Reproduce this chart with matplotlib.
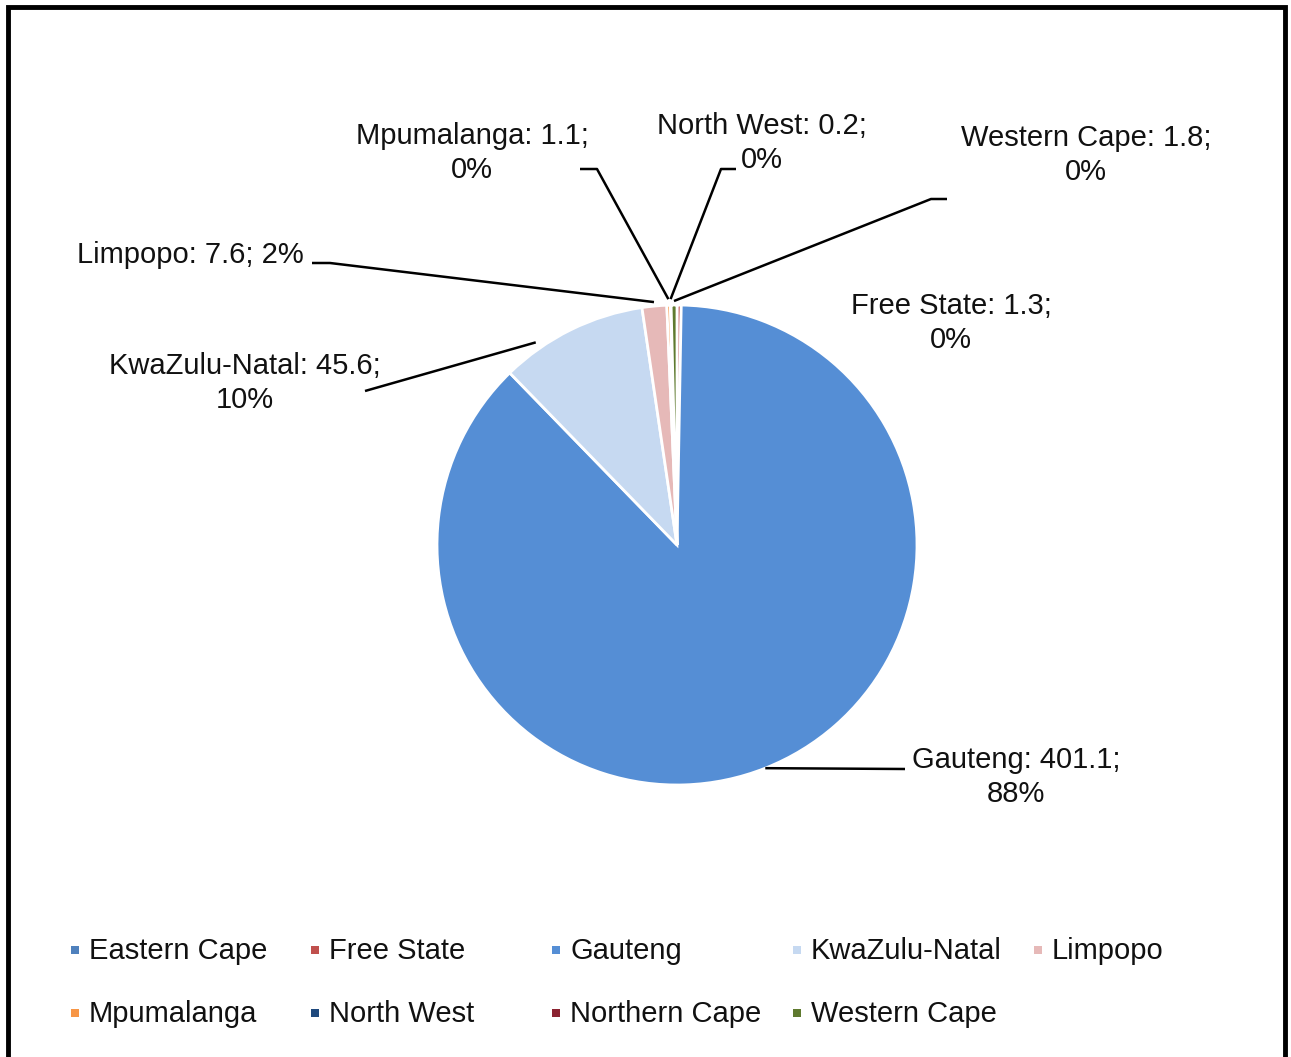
import matplotlib.pyplot as plt
import numpy as np
from matplotlib.patches import Rectangle

plt.rcParams['font.family'] = ['Liberation Sans', 'DejaVu Sans']

# Provinces, values and the percentage shown in each data label
provinces = ['Eastern Cape', 'Free State', 'Gauteng', 'KwaZulu-Natal', 'Limpopo',
             'Mpumalanga', 'North West', 'Northern Cape', 'Western Cape']
values = [0.0, 1.3, 401.1, 45.6, 7.6, 1.1, 0.2, 0.0, 1.8]
pct_text = ['', '0%', '88%', '10%', '2%', '0%', '0%', '', '0%']
colors = ['#4f81bd', '#c0504d', '#558ed5', '#c6d9f1', '#e6b9b8',
          '#f79646', '#1f497d', '#8b2331', '#5f7a2f']

W, H = 1291, 1057
CX, CY, R = 677, 545, 240


def fy(y):
    # screen pixel row -> data y
    return H - y


def edge_point(theta, r=R):
    # theta in degrees, clockwise from 12 o'clock
    t = np.radians(theta)
    return CX + r * np.sin(t), fy(CY - r * np.cos(t))


fig = plt.figure(figsize=(W / 100, H / 100), dpi=100, facecolor='white')
ax = fig.add_axes([0, 0, 1, 1])

ax.pie(values, colors=colors, startangle=90, counterclock=False,
       center=(CX, fy(CY)), radius=R,
       wedgeprops=dict(edgecolor='white', linewidth=2))
ax.set_xlim(0, W)
ax.set_ylim(0, H)
ax.set_aspect('auto')
ax.axis('off')

total = sum(values)
cum = np.cumsum([0] + values) / total * 360

# label layout: text centre (px), leader path from text side (px), where on the wedge the line lands
label_layout = {
    'Free State': dict(xy=(951, 323), lines=2, path=None),
    'Gauteng': dict(xy=(1016, 777), lines=2, path=[(905, 769)], frac=0.5),
    'KwaZulu-Natal': dict(xy=(245, 383), lines=2, path=[(365, 391)], frac=0.26, r=247),
    'Limpopo': dict(xy=(190, 255), lines=1, path=[(312, 263), (330, 263)], frac=0.5, r=244),
    'Mpumalanga': dict(xy=(472, 153), lines=2, path=[(580, 169), (597, 169)], frac=0.5, r=246),
    'North West': dict(xy=(762, 143), lines=2, path=[(736, 169), (721, 169)], frac=0.5, r=246),
    'Western Cape': dict(xy=(1086, 155), lines=2, path=[(947, 199), (931, 199)], frac=0.5, r=244),
}

for i, name in enumerate(provinces):
    if name not in label_layout:
        continue
    lay = label_layout[name]
    if lay['lines'] == 1:
        txt = f'{name}: {values[i]:.1f}; {pct_text[i]}'
    else:
        txt = f'{name}: {values[i]:.1f};\n{pct_text[i]}'
    x, y = lay['xy']
    ax.text(x, fy(y), txt, ha='center', va='center', fontsize=21,
            color='#111111', linespacing=1.25)
    if lay['path']:
        theta = cum[i] + lay['frac'] * (cum[i + 1] - cum[i])
        ex, ey = edge_point(theta, lay.get('r', R))
        xs = [p[0] for p in lay['path']] + [ex]
        ys = [fy(p[1]) for p in lay['path']] + [ey]
        ax.plot(xs, ys, color='black', lw=1.8, solid_capstyle='butt')

# legend: two rows, equal column widths
col_x = [75, 315, 556, 797, 1038]
row_y = [950, 1013]
for i, name in enumerate(provinces):
    x = col_x[i % 5]
    y = row_y[i // 5]
    ax.add_patch(Rectangle((x - 4, fy(y) - 4), 8, 8, facecolor=colors[i], edgecolor='none'))
    ax.text(x + 14, fy(y) - 1, name, ha='left', va='center', fontsize=21, color='#111111')

# outer frame (bottom edge falls outside the image)
ax.plot([8, 8, 1285, 1285], [0, fy(7), fy(7), 0], color='black', lw=3.5,
        solid_joinstyle='miter')

fig.savefig('out.png', dpi=100, facecolor='white')
